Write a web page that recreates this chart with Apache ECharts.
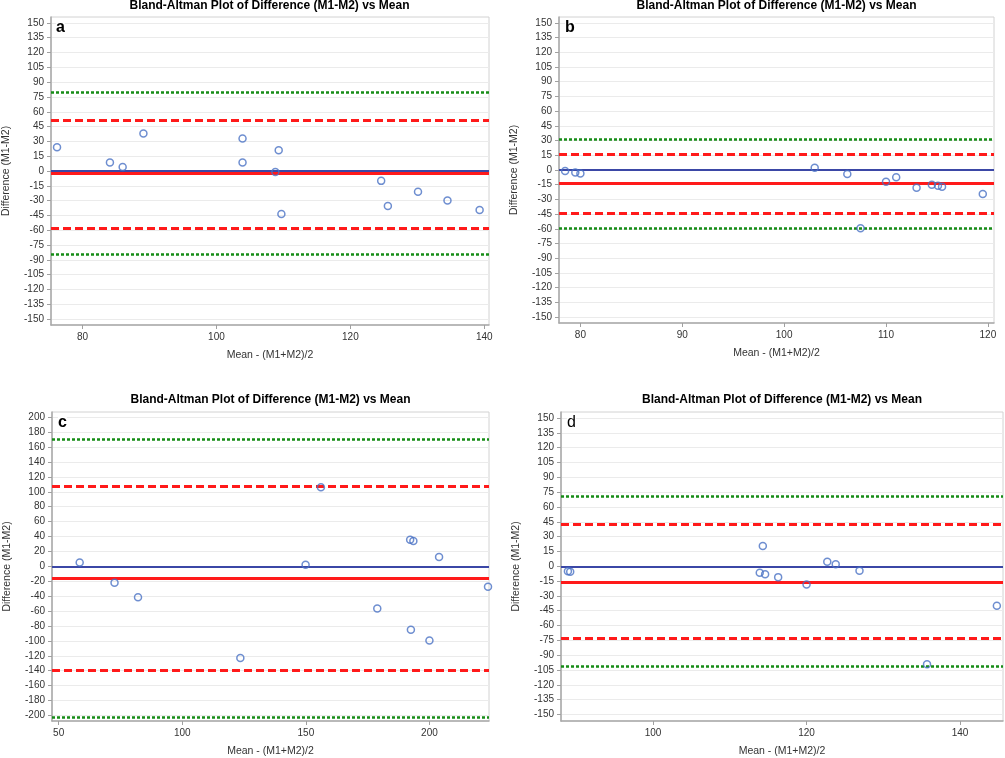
<!DOCTYPE html>
<html><head><meta charset="utf-8">
<script src="https://cdn.jsdelivr.net/npm/echarts@6/dist/echarts.min.js"></script>
<style>html,body{margin:0;padding:0;background:#fff}#chart{width:1005px;height:758px}</style>
</head><body><div id="chart"></div>
<script>
const titleText = 'Bland-Altman Plot of Difference (M1-M2) vs Mean';
const xAxisName = 'Mean - (M1+M2)/2';
const yAxisName = 'Difference (M1-M2)';
const panelLetters = ['a', 'b', 'c', 'd'];

// Panel a
const aMean = [76.2, 84.1, 86.0, 89.1, 103.9, 103.9, 108.8, 109.3, 109.7, 124.6, 125.6, 130.1, 134.5, 139.3];
const aDiff = [24, 8.5, 4, 38, 33, 8.5, -1, 21, -43.5, -10, -35.5, -21, -30, -39.5];
const aMeanDiff = -2.7;
const aLoA = [51.7, -58];
const aOuter = [79.4, -84.4];
const aXTicks = [80, 100, 120, 140];

// Panel b
const bMean = [78.5, 79.5, 80.0, 103.0, 106.2, 107.5, 110.0, 111.0, 113.0, 114.5, 115.1, 115.5, 119.5];
const bDiff = [-1, -2.5, -3.5, 2.3, -4, -59.3, -12, -7.5, -18, -15, -16, -17, -24.5];
const bMeanDiff = -13.9;
const bLoA = [16, -44];
const bOuter = [31.3, -59.2];
const bXTicks = [80, 90, 100, 110, 120];

// Panel c
const cMean = [58.5, 72.6, 82.1, 123.5, 149.9, 156.1, 178.9, 192.2, 192.5, 193.5, 200.0, 203.9, 223.7];
const cDiff = [5, -22, -41.5, -123, 2, 106, -56.5, 35.5, -85, 34, -99.5, 12.5, -27.5];
const cMeanDiff = -15.8;
const cLoA = [107.5, -140];
const cOuter = [170, -202];
const cXTicks = [50, 100, 150, 200];

// Panel d
const dMean = [88.9, 89.2, 113.9, 114.3, 114.6, 116.3, 120.0, 122.7, 123.8, 126.9, 135.7, 144.8];
const dDiff = [-5, -5.5, -6.5, 20.5, -8, -11, -18.5, 4.5, 2, -4.5, -99, -40];
const dMeanDiff = -15.8;
const dLoA = [42.5, -73.2];
const dOuter = [70.8, -101.4];
const dXTicks = [100, 120, 140];

const yTicks15 = [-150, -135, -120, -105, -90, -75, -60, -45, -30, -15, 0, 15, 30, 45, 60, 75, 90, 105, 120, 135, 150];
const yTicks20 = [-200, -180, -160, -140, -120, -100, -80, -60, -40, -20, 0, 20, 40, 60, 80, 100, 120, 140, 160, 180, 200];

const FONT = '"Liberation Sans", Arial, sans-serif';
const panels = [
  {mean: aMean, diff: aDiff, md: aMeanDiff, loa: aLoA, outer: aOuter, xt: aXTicks, yt: yTicks15,
   grid: {left: 50, top: 17, width: 439, height: 308}, xr: [75.3, 140.7], yr: [-156, 156], letterBold: true},
  {mean: bMean, diff: bDiff, md: bMeanDiff, loa: bLoA, outer: bOuter, xt: bXTicks, yt: yTicks15,
   grid: {left: 559, top: 17, width: 435, height: 306}, xr: [77.9, 120.6], yr: [-156, 156], letterBold: true},
  {mean: cMean, diff: cDiff, md: cMeanDiff, loa: cLoA, outer: cOuter, xt: cXTicks, yt: yTicks20,
   grid: {left: 52, top: 412, width: 437, height: 310}, xr: [47.3, 224.1], yr: [-207.5, 207], letterBold: true},
  {mean: dMean, diff: dDiff, md: dMeanDiff, loa: dLoA, outer: dOuter, xt: dXTicks, yt: yTicks15,
   grid: {left: 561, top: 412, width: 442, height: 309}, xr: [88.0, 145.6], yr: [-156.5, 156], letterBold: false}
];

const RED = '#ff1a1a', GREEN = '#168c16', BLUE = '#3b47a6', PT = '#4a72c4';

const grids = [], xAxes = [], yAxes = [], series = [], graphics = [];
panels.forEach((p, i) => {
  grids.push(Object.assign({show: true, borderColor: '#d2d2d2', borderWidth: 1, backgroundColor: '#fff', containLabel: false}, p.grid));
  xAxes.push({
    gridIndex: i, type: 'value', min: p.xr[0], max: p.xr[1],
    name: xAxisName, nameLocation: 'middle', nameGap: 25,
    nameTextStyle: {color: '#333', fontSize: 10.5, fontFamily: FONT},
    axisLine: {show: true, onZero: false, lineStyle: {color: '#a9a9a9', width: 1.5}},
    axisTick: {show: true, length: 4, customValues: p.xt, lineStyle: {color: '#a0a0a0'}},
    axisLabel: {customValues: p.xt, color: '#333', fontSize: 10, fontFamily: FONT, margin: 7},
    splitLine: {show: false}
  });
  yAxes.push({
    gridIndex: i, type: 'value', min: p.yr[0], max: p.yr[1],
    name: yAxisName, nameLocation: 'middle', nameGap: 39,
    nameTextStyle: {color: '#333', fontSize: 10.5, fontFamily: FONT},
    axisLine: {show: true, onZero: false, lineStyle: {color: '#a9a9a9', width: 1.5}},
    axisTick: {show: true, length: 4, customValues: p.yt, lineStyle: {color: '#a0a0a0'}},
    axisLabel: {customValues: p.yt, color: '#333', fontSize: 10, fontFamily: FONT, margin: 7},
    splitLine: {show: true, lineStyle: {color: '#ebebeb', width: 1}}
  });
  series.push({
    type: 'line', xAxisIndex: i, yAxisIndex: i, data: [], z: 2, silent: true,
    markLine: {
      silent: true, animation: false, symbol: ['none', 'none'], label: {show: false},
      emphasis: {disabled: true},
      data: [
        {yAxis: 0, lineStyle: {color: BLUE, width: 2, type: 'solid'}},
        {yAxis: p.md, lineStyle: {color: RED, width: 3, type: 'solid'}},
        {yAxis: p.loa[0], lineStyle: {color: RED, width: 3, type: [8, 4]}},
        {yAxis: p.loa[1], lineStyle: {color: RED, width: 3, type: [8, 4]}},
        {yAxis: p.outer[0], lineStyle: {color: GREEN, width: 2.5, type: [3, 2]}},
        {yAxis: p.outer[1], lineStyle: {color: GREEN, width: 2.5, type: [3, 2]}}
      ]
    }
  });
  series.push({
    type: 'scatter', xAxisIndex: i, yAxisIndex: i, z: 5, animation: false,
    symbol: 'circle', symbolSize: 7,
    itemStyle: {color: 'rgba(0,0,0,0)', borderColor: PT, borderWidth: 1.5},
    data: p.mean.map((m, k) => [m, p.diff[k]])
  });
  const g = p.grid;
  graphics.push({
    type: 'text', z: 100, x: g.left + g.width / 2, y: i < 2 ? 6 : 400,
    style: {text: titleText, align: 'center', verticalAlign: 'middle', fill: '#000',
      fontSize: 12, fontWeight: 'bold', fontFamily: FONT}
  });
  graphics.push({
    type: 'text', z: 100, x: g.left + 6, y: g.top + 3,
    style: {text: panelLetters[i], align: 'left', verticalAlign: 'top', fill: '#000',
      backgroundColor: '#fff',
      fontSize: 16, fontWeight: p.letterBold ? 'bold' : 'normal', fontFamily: FONT}
  });
});

const chart = echarts.init(document.getElementById('chart'), null, {renderer: 'canvas'});
chart.setOption({
  animation: false,
  backgroundColor: '#fff',
  grid: grids, xAxis: xAxes, yAxis: yAxes, series: series,
  graphic: graphics
});
</script>
</body></html>
